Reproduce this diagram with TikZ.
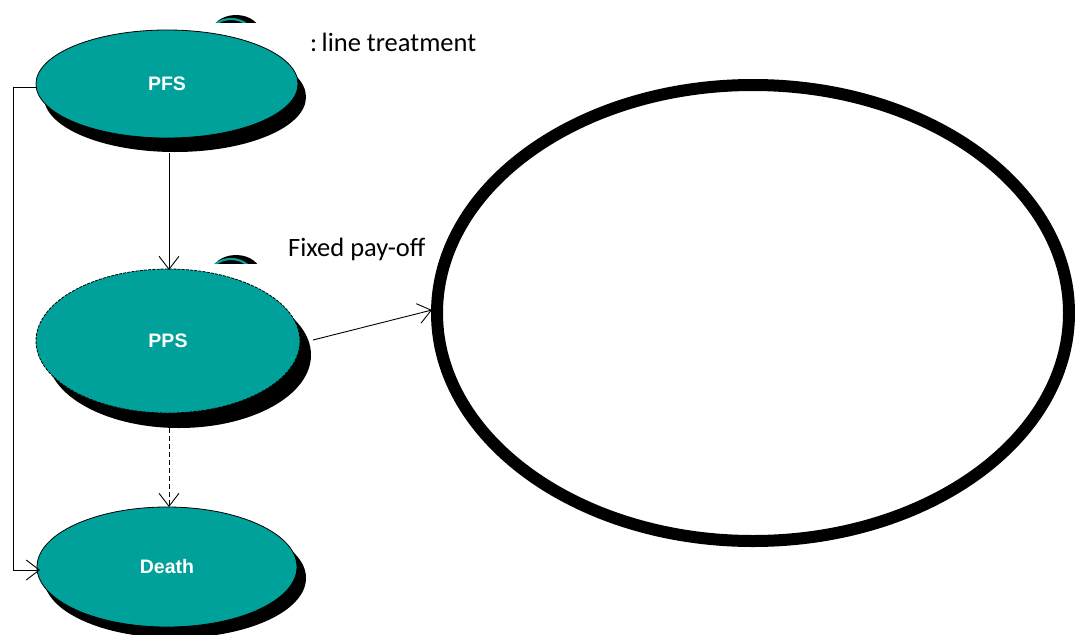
\documentclass[tikz,border=0pt]{standalone}
\usepackage{fontspec}
\setmainfont{Carlito}
\newfontfamily\arialfont{Liberation Sans}
\usetikzlibrary{shapes.geometric,arrows.meta}
\definecolor{teal1}{RGB}{0,161,154}
\tikzset{
  state/.style={ellipse, fill=teal1, draw=black, line width=0.8pt, inner sep=0pt,
     text=white, font=\arialfont\bfseries\fontsize{19.5}{22}\selectfont},
  shad/.style={ellipse, fill=black, draw=none, inner sep=0pt},
  conn/.style={line width=0.9pt, -{Straight Barb[length=13pt,width=20pt,line width=0.9pt]}},
  lbl/.style={font=\fontsize{26.5}{28}\selectfont, anchor=west, inner sep=0pt}
}
\begin{document}
\begin{tikzpicture}[x=1pt,y=-1pt]
\useasboundingbox (0,0) rectangle (1075,634);
% small partial shapes behind the labels
\begin{scope}
  \clip (195,0) rectangle (270,23);
  \fill[black] (236,34) ellipse [x radius=25, y radius=19];
  \draw[teal1, line width=2.2pt] (231,37) ellipse [x radius=22, y radius=18];
\end{scope}
\begin{scope}
  \clip (195,240) rectangle (270,263);
  \fill[black] (236,274) ellipse [x radius=25, y radius=19];
  \draw[teal1, line width=2.2pt] (231,277) ellipse [x radius=22, y radius=18];
\end{scope}
% shadows
\node[shad, minimum width=262pt, minimum height=110pt] at (175,97) {};
\node[shad, minimum width=264pt, minimum height=146pt] at (179,355) {};
\node[shad, minimum width=262pt, minimum height=120pt] at (175,578) {};
% states
\node[state, minimum width=262pt, minimum height=108pt] (pfs) at (167,84) {PFS};
\node[state, minimum width=264pt, minimum height=144pt, dash pattern=on 3pt off 1.2pt] (pps) at (168,341) {PPS};
\node[state, minimum width=260pt, minimum height=120pt] (death) at (167,567) {Death};
% big ellipse
\node[ellipse, draw=black, line width=12pt, minimum width=632pt, minimum height=456pt, inner sep=0pt] (big) at (753,313) {};
% labels
\node[lbl] (lt) at (310,42) {:\,line treatment};
\node[lbl] (fp) at (288,249) {Fixed pay-off};
% connectors
\coordinate (pfsb) at (169,153);
\coordinate (ppst) at (169,270);
\coordinate (ppsb) at (169,428);
\coordinate (deatht) at (169,507);
\coordinate (ppsr) at (313,340);
\coordinate (bigl) at (432,310);
\coordinate (pfsl) at (37,87);
\coordinate (deathl) at (40,570);
\draw[conn] (pfsb) -- (ppst);
\draw[conn, dash pattern=on 5pt off 3pt] (ppsb) -- (deatht);
\draw[conn] (ppsr) -- (bigl);
\draw[conn] (pfsl) -- (13,87) -- (13,570) -- (deathl);
\end{tikzpicture}
\end{document}
